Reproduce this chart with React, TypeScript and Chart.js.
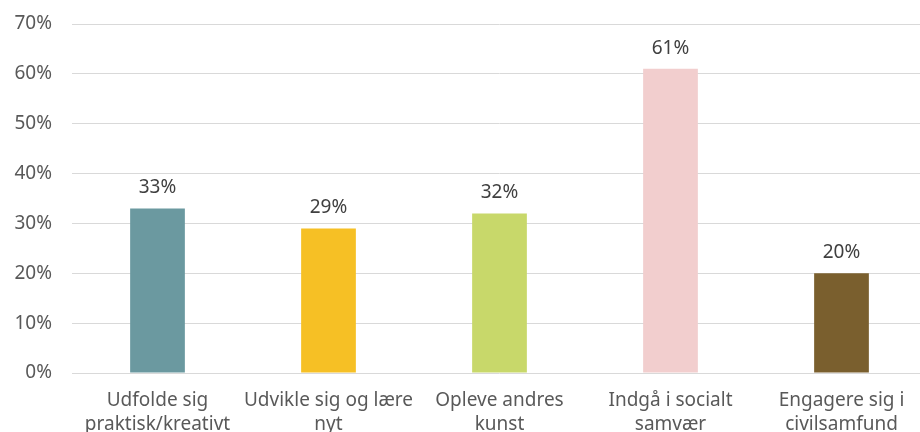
import React, { useEffect, useRef } from "react";
import { Chart, registerables } from "chart.js";

Chart.register(...registerables);

const categories: string[][] = [
  ["Udfolde sig", "praktisk/kreativt"],
  ["Udvikle sig og lære", "nyt"],
  ["Opleve andres", "kunst"],
  ["Indgå i socialt", "samvær"],
  ["Engagere sig i", "civilsamfund"],
];
const values: number[] = [33, 29, 32, 61, 20];
const barColors: string[] = ["#6B99A0", "#F6C025", "#C8D86A", "#F2CECE", "#7A5F2E"];
const yTicks: number[] = [0, 10, 20, 30, 40, 50, 60, 70];

const FONT = "'Noto Sans', sans-serif";

const labelPlugin = {
  id: "valueLabels",
  afterDatasetsDraw(chart: any) {
    const ctx = chart.ctx;
    const meta = chart.getDatasetMeta(0);
    ctx.save();
    ctx.font = `19px ${FONT}`;
    ctx.fillStyle = "#404040";
    ctx.textAlign = "center";
    ctx.textBaseline = "alphabetic";
    meta.data.forEach((bar: any, i: number) => {
      ctx.fillText(values[i] + "%", bar.x, bar.y - 15);
    });
    ctx.restore();
  },
};

export default function App() {
  const ref = useRef<HTMLCanvasElement>(null);
  useEffect(() => {
    document.body.style.margin = "0";
    const chart = new Chart(ref.current!, {
      type: "bar",
      data: {
        labels: categories,
        datasets: [
          {
            data: values,
            backgroundColor: barColors,
            barPercentage: 0.64,
            categoryPercentage: 0.5,
          },
        ],
      },
      options: {
        animation: false,
        responsive: false,
        layout: { padding: { top: 24, right: 3, left: 0, bottom: 0 } },
        plugins: { legend: { display: false }, tooltip: { enabled: false } },
        scales: {
          x: {
            grid: { display: false },
            border: { display: false },
            ticks: {
              color: "#595959",
              font: { family: FONT, size: 19, lineHeight: 1.25 },
              padding: 8,
              maxRotation: 0,
              autoSkip: false,
            },
            afterFit: (s: any) => {
              s.height = 432 - 373;
              s.paddingLeft = 0;
              s.paddingRight = 0;
            },
          },
          y: {
            min: 0,
            max: 70,
            afterBuildTicks: (s: any) => {
              s.ticks = yTicks.map((v) => ({ value: v }));
            },
            grid: { color: "#D9D9D9", lineWidth: 1, drawTicks: false },
            border: { display: false },
            ticks: {
              color: "#595959",
              font: { family: FONT, size: 19 },
              padding: 20,
              callback: (v: any) => v + "%",
            },
            afterFit: (s: any) => {
              s.width = 72;
              s.paddingTop = 0;
              s.paddingBottom = 0;
            },
          },
        },
      },
      plugins: [labelPlugin],
    });
    return () => chart.destroy();
  }, []);
  return (
    <div style={{ position: "fixed", left: 0, top: 0, width: 920, height: 432, overflow: "hidden", background: "#fff" }}>
      <canvas ref={ref} width={930} height={432} style={{ display: "block" }} />
    </div>
  );
}
